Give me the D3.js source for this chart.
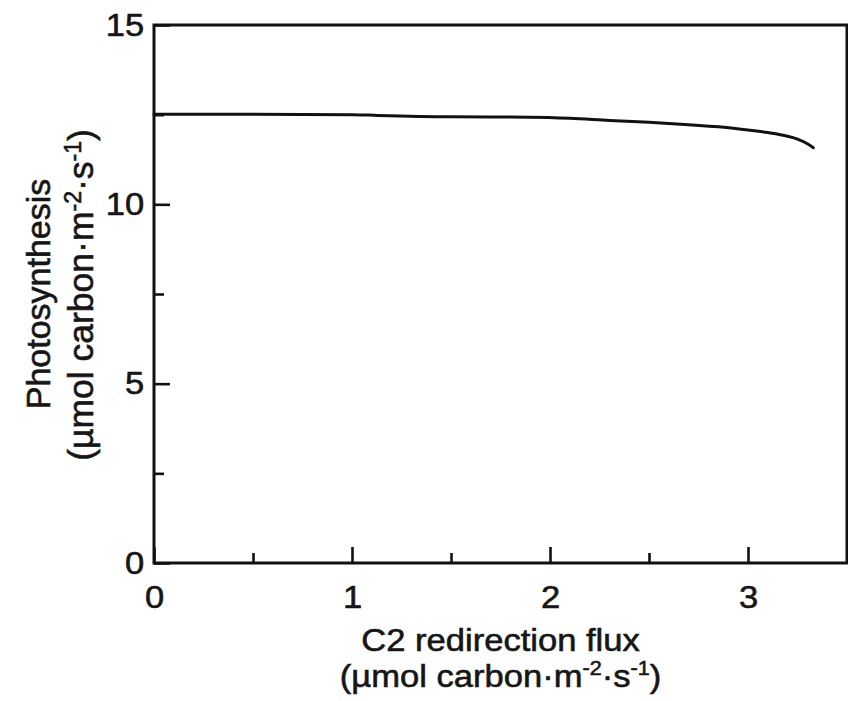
<!DOCTYPE html>
<html>
<head>
<meta charset="utf-8">
<script src="https://cdn.jsdelivr.net/npm/d3@7"></script>
<style>
  html, body { margin: 0; padding: 0; background: #fff; }
  svg { display: block; }
  text { font-family: "Liberation Sans", Arial, sans-serif; fill: #161616; stroke: #161616; stroke-width: 0.6px; }
</style>
</head>
<body>
<svg id="chart" width="848" height="701"></svg>
<script>
// ---- data ----
const fluxX = [0, 0.5, 1.0, 1.13, 1.5, 1.9, 2.1, 2.3, 2.5, 2.7, 2.85, 3.0, 3.1, 3.2, 3.25, 3.3, 3.33];
const photosynthesisY = [12.51, 12.51, 12.50, 12.48, 12.44, 12.43, 12.40, 12.34, 12.29, 12.22, 12.16, 12.07, 12.00, 11.90, 11.82, 11.69, 11.58];
const xMajorTicks = [0, 1, 2, 3];
const xMinorTicks = [0.5, 1.5, 2.5];
const yMajorTicks = [0, 5, 10, 15];
const yMinorTicks = [2.5, 7.5, 12.5];
const xTitle = "C2 redirection flux";
const yTitle = "Photosynthesis";

// ---- layout ----
const svg = d3.select("#chart");
const plot = { left: 154, top: 25, right: 847, bottom: 563 };
const ink = "#111";
const stretch = 1.08;

const x = d3.scaleLinear().domain([0, 3.5]).range([plot.left, plot.right]);
const y = d3.scaleLinear().domain([0, 15]).range([plot.bottom, plot.top]);

// minor ticks
const xMinor = svg.append("g").attr("transform", `translate(0,${plot.bottom})`)
  .call(d3.axisBottom(x).tickValues(xMinorTicks).tickSize(-10).tickFormat(""));
const yMinor = svg.append("g").attr("transform", `translate(${plot.left},0)`)
  .call(d3.axisLeft(y).tickValues(yMinorTicks).tickSize(-10).tickFormat(""));

// major ticks
const xAxis = svg.append("g").attr("transform", `translate(0,${plot.bottom})`)
  .call(d3.axisBottom(x).tickValues(xMajorTicks).tickSize(-16).tickPadding(22).tickFormat(d3.format("d")));
const yAxis = svg.append("g").attr("transform", `translate(${plot.left},0)`)
  .call(d3.axisLeft(y).tickValues(yMajorTicks).tickSize(-16).tickPadding(9).tickFormat(d3.format("d")));

[xMinor, yMinor, xAxis, yAxis].forEach(g => {
  g.select(".domain").remove();
  g.selectAll(".tick line").attr("stroke", ink).attr("stroke-width", 2.6);
  g.selectAll(".tick text").attr("font-size", 32).attr("fill", "#161616")
    .attr("transform", `scale(${stretch},1)`)
    .style("font-family", '"Liberation Sans", Arial, sans-serif');
});

// frame
svg.append("rect")
  .attr("x", plot.left).attr("y", plot.top)
  .attr("width", plot.right - plot.left).attr("height", plot.bottom - plot.top)
  .attr("fill", "none").attr("stroke", ink).attr("stroke-width", 3);

// curve
const data = fluxX.map((d, i) => ({ x: d, y: photosynthesisY[i] }));
svg.append("path")
  .datum(data)
  .attr("fill", "none")
  .attr("stroke", ink)
  .attr("stroke-width", 3)
  .attr("stroke-linejoin", "round")
  .attr("stroke-linecap", "round")
  .attr("d", d3.line().x(d => x(d.x)).y(d => y(d.y)).curve(d3.curveMonotoneX));

// unit label builder
function unitLine(sel, sup) {
  sel.append("tspan").text("(µmol carbon·m");
  sel.append("tspan").attr("font-size", sup).attr("dy", -12).text("-2");
  sel.append("tspan").attr("dy", 12).text("·s");
  sel.append("tspan").attr("font-size", sup).attr("dy", -12).text("-1");
  sel.append("tspan").attr("dy", 12).text(")");
}

// x title
const cx = (plot.left + plot.right) / 2;
const xt = svg.append("g").attr("transform", `translate(${cx},0) scale(${stretch},1)`);
xt.append("text").attr("x", 0).attr("y", 651).attr("text-anchor", "middle")
  .attr("font-size", 32).text(xTitle);
xt.append("text").attr("x", 0).attr("y", 687).attr("text-anchor", "middle")
  .attr("font-size", 32).call(unitLine, 20);

// y title
const cy = (plot.top + plot.bottom) / 2;
const yt = svg.append("g").attr("transform", `translate(0,${cy}) rotate(-90)`);
yt.append("text").attr("x", 0).attr("y", 50).attr("text-anchor", "middle")
  .attr("font-size", 34).text(yTitle);
yt.append("text").attr("x", -1).attr("y", 93).attr("text-anchor", "middle")
  .attr("font-size", 35.5).call(unitLine, 23);
</script>
</body>
</html>
